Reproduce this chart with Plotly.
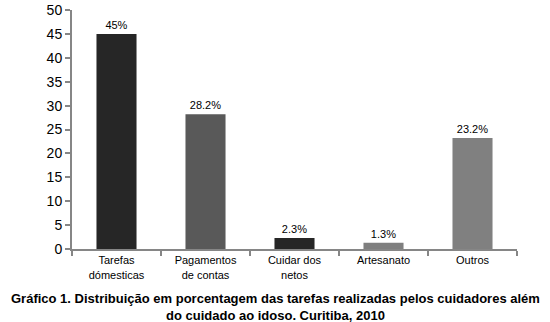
import plotly.graph_objects as go

categories = ["Tarefas<br>dómesticas", "Pagamentos<br>de contas", "Cuidar dos<br>netos", "Artesanato", "Outros"]
values = [45, 28.2, 2.3, 1.3, 23.2]
labels = ["45%", "28.2%", "2.3%", "1.3%", "23.2%"]
colors = ["#262626", "#595959", "#262626", "#7f7f7f", "#808080"]
y_ticks = list(range(0, 51, 5))

fig = go.Figure()
fig.add_trace(go.Bar(
    x=categories, y=values, text=labels, textposition="outside",
    marker=dict(color=colors, line=dict(width=0)),
    width=0.45, cliponaxis=False,
    textfont=dict(family="Liberation Sans, Arial", size=11, color="#000"),
))

fig.update_layout(
    width=550, height=322,
    margin=dict(l=72, r=33, t=10, b=73, autoexpand=False),
    paper_bgcolor="white", plot_bgcolor="white",
    showlegend=False,
    font=dict(family="Liberation Sans, Arial", color="#000"),
    xaxis=dict(
        showline=True, linecolor="#868686", linewidth=2, automargin=False,
        ticks="outside", tickson="boundaries", ticklen=5, tickcolor="#868686", tickwidth=2,
        tickfont=dict(size=11), showgrid=False,
    ),
    yaxis=dict(
        range=[0, 50], tickvals=y_ticks, automargin=False,
        showline=True, linecolor="#868686", linewidth=2,
        ticks="outside", ticklen=5, tickcolor="#868686", tickwidth=2,
        tickfont=dict(size=14), showgrid=False, zeroline=False,
    ),
    annotations=[dict(
        text="<b>Gráfico 1. Distribuição em porcentagem das tarefas realizadas pelos cuidadores além<br>do cuidado ao idoso. Curitiba, 2010</b>",
        xref="paper", yref="paper", x=0.5, y=0, xanchor="center", yanchor="top",
        yshift=-40, showarrow=False, align="center",
        font=dict(family="Liberation Sans, Arial", size=13, color="#000"),
        xshift=-19,
    )],
)

fig.write_html("out.html", config={"displayModeBar": False},
               post_script="document.body.style.margin='0';")
